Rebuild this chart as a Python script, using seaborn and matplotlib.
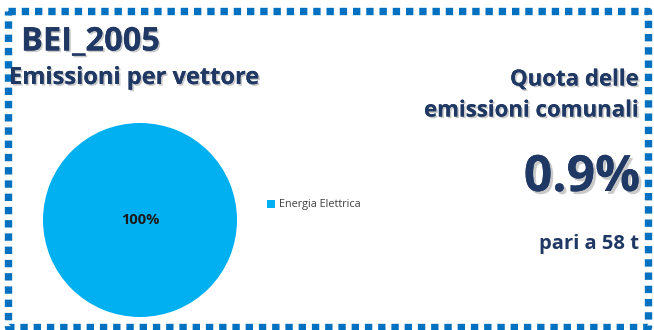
import matplotlib
matplotlib.use("Agg")
import matplotlib.pyplot as plt
import matplotlib.patheffects as pe
import seaborn as sns

# Data
titolo = "BEI_2005"
vettori = ["Energia Elettrica"]
quote_vettori = [100]
quota_comunale = 0.9   # %
emissioni_t = 58

blu_pie = "#00B0F0"
blu_bordo = "#0070C0"
testo_col = "#1F3864"

sns.set_theme(style="white")
plt.rcParams['font.family'] = ['Open Sans', 'DejaVu Sans']

fig = plt.figure(figsize=(6.54, 3.30), dpi=100)
fig.patch.set_facecolor("white")

# dotted border
border = fig.add_axes([0, 0, 1, 1], zorder=-1)
border.set_xlim(0, 654)
border.set_ylim(330, 0)
border.axis("off")
border.plot([8, 648, 648, 8, 8], [11, 11, 327, 327, 11], color=blu_bordo,
            lw=5.3, linestyle=(0, (1.0, 0.8)), solid_capstyle="butt", dash_capstyle="butt")

shadow = [pe.withSimplePatchShadow(offset=(1.2, -1.2), shadow_rgbFace="#888888", alpha=0.45), pe.Normal()]

fig.text(21 / 654, 1 - 42 / 330, titolo, fontsize=23.5, fontweight="bold", color=testo_col,
         va="center", ha="left", path_effects=shadow)
fig.text(9 / 654, 1 - 78 / 330, "Emissioni per vettore", fontsize=17, fontweight="bold",
         color=testo_col, va="center", ha="left", path_effects=shadow)

fig.text(639 / 654, 1 - 80 / 330, "Quota delle", fontsize=16, fontweight="bold",
         color=testo_col, va="center", ha="right", path_effects=shadow)
fig.text(639 / 654, 1 - 111 / 330, "emissioni comunali", fontsize=16, fontweight="bold",
         color=testo_col, va="center", ha="right", path_effects=shadow)
fig.text(640 / 654, 1 - 178 / 330, f"{quota_comunale}%", fontsize=36, fontweight="bold",
         color=testo_col, va="center", ha="right",
         path_effects=[pe.withSimplePatchShadow(offset=(2, -2), shadow_rgbFace="#888888", alpha=0.45), pe.Normal()])
fig.text(639 / 654, 1 - 244 / 330, f"pari a {emissioni_t} t", fontsize=14.5, fontweight="bold",
         color=testo_col, va="center", ha="right")

# pie
ax = fig.add_axes([43 / 654, 1 - 317 / 330, 194 / 654, 194 / 330])
wedges, _ = ax.pie(quote_vettori, colors=[blu_pie], startangle=90, radius=1.0,
                   wedgeprops=dict(linewidth=0))
for w, q in zip(wedges, quote_vettori):
    ax.text(0, 0, f"{q}%", ha="center", va="center", fontsize=10.5, fontweight="bold", color="#1A1A1A")
ax.set_xlim(-1, 1)
ax.set_ylim(-1, 1)
ax.set_aspect("auto")

fig.legend(wedges, vettori, loc="center left", bbox_to_anchor=(257 / 654, 1 - 205 / 330),
           frameon=False, fontsize=7.8, handlelength=0.8, handleheight=0.8,
           handletextpad=0.3, labelcolor="#404040")

fig.savefig("out.png", dpi=100)
